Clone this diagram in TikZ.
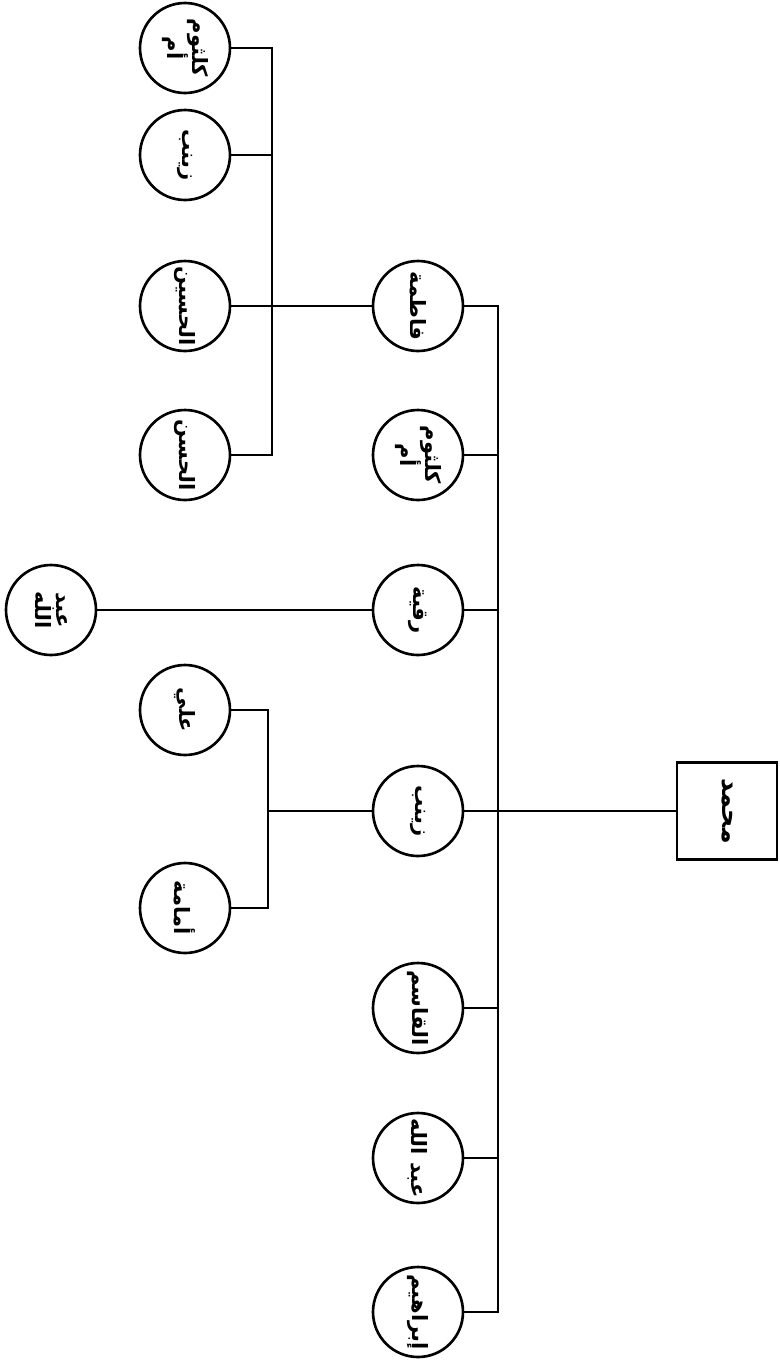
\documentclass[tikz,border=0pt]{standalone}
\usepackage{fontspec}
\newfontfamily\arabicfont[Script=Arabic]{DejaVu Sans}
\TeXXeTstate=1
\usepackage{tikz}
\usetikzlibrary{calc}

% names are written sideways, as on the turned page
\newcommand{\arname}[1]{\rotatebox{-90}{\arabicfont\beginR #1\endR}}
\newcommand{\artwo}[2]{\rotatebox{-90}{\begin{tabular}{@{}c@{}}%
  \arabicfont\beginR #1\endR\\[-2pt]\arabicfont\beginR #2\endR\end{tabular}}}

\begin{document}
\begin{tikzpicture}[
  line width=1.5pt,
  person/.style={circle, draw, minimum size=1.8cm, inner sep=0pt, font=\large\bfseries},
  rootbox/.style={draw, minimum width=2cm, minimum height=1.94cm, font=\Large\bfseries},
]
  \useasboundingbox (0,0) rectangle (15.58,-27.24);

  % Root
  \node[rootbox] (muhammad) at (14.54,-16.22) {\arname{محمد}};

  % Children
  \node[person] (fatima)  at (8.36,-6.12)  {\arname{فاطمة}};
  \node[person] (umkul)   at (8.36,-9.10)  {\artwo{كلثوم}{أم}};
  \node[person] (ruqayya) at (8.36,-12.20) {\arname{رقية}};
  \node[person] (zainab)  at (8.36,-16.22) {\arname{زينب}};
  \node[person] (qasim)   at (8.36,-20.16) {\arname{القاسم}};
  \node[person] (abdulla) at (8.36,-23.16) {\arname{عبد الله}};
  \node[person] (ibrahim) at (8.36,-26.24) {\arname{إبراهيم}};

  % Grandchildren
  \node[person] (umkulb)  at (3.70,-0.96)  {\artwo{كلثوم}{أم}};
  \node[person] (zainabb) at (3.70,-3.10)  {\arname{زينب}};
  \node[person] (husain)  at (3.70,-6.12)  {\arname{الحسين}};
  \node[person] (hasan)   at (3.70,-9.10)  {\arname{الحسن}};
  \node[person] (abdullb) at (1.02,-12.20) {\artwo{عبد}{الله}};
  \node[person] (ali)     at (3.70,-14.20) {\arname{علي}};
  \node[person] (umama)   at (3.70,-18.16) {\arname{أمامة}};

  % Trunk
  \coordinate (tx) at (9.96,0);
  \draw (fatima.east) -- (fatima.east -| tx) -- (ibrahim.east -| tx) -- (ibrahim.east);
  \foreach \c in {umkul, ruqayya, qasim, abdulla}
    \draw (\c.east) -- (\c.east -| tx);
  \draw (zainab.east) -- (muhammad.west);

  % Fatima's children
  \coordinate (fx) at (5.44,0);
  \draw (umkulb.east) -- (umkulb.east -| fx) -- (hasan.east -| fx) -- (hasan.east);
  \draw (zainabb.east) -- (zainabb.east -| fx);
  \draw (husain.east) -- (fatima.west);

  % Ruqayya's son
  \draw (abdullb.east) -- (ruqayya.west);

  % Zainab's children
  \coordinate (zx) at (5.36,0);
  \draw (ali.east) -- (ali.east -| zx) -- (umama.east -| zx) -- (umama.east);
  \draw (zainab.west -| zx) -- (zainab.west);

\end{tikzpicture}
\end{document}
